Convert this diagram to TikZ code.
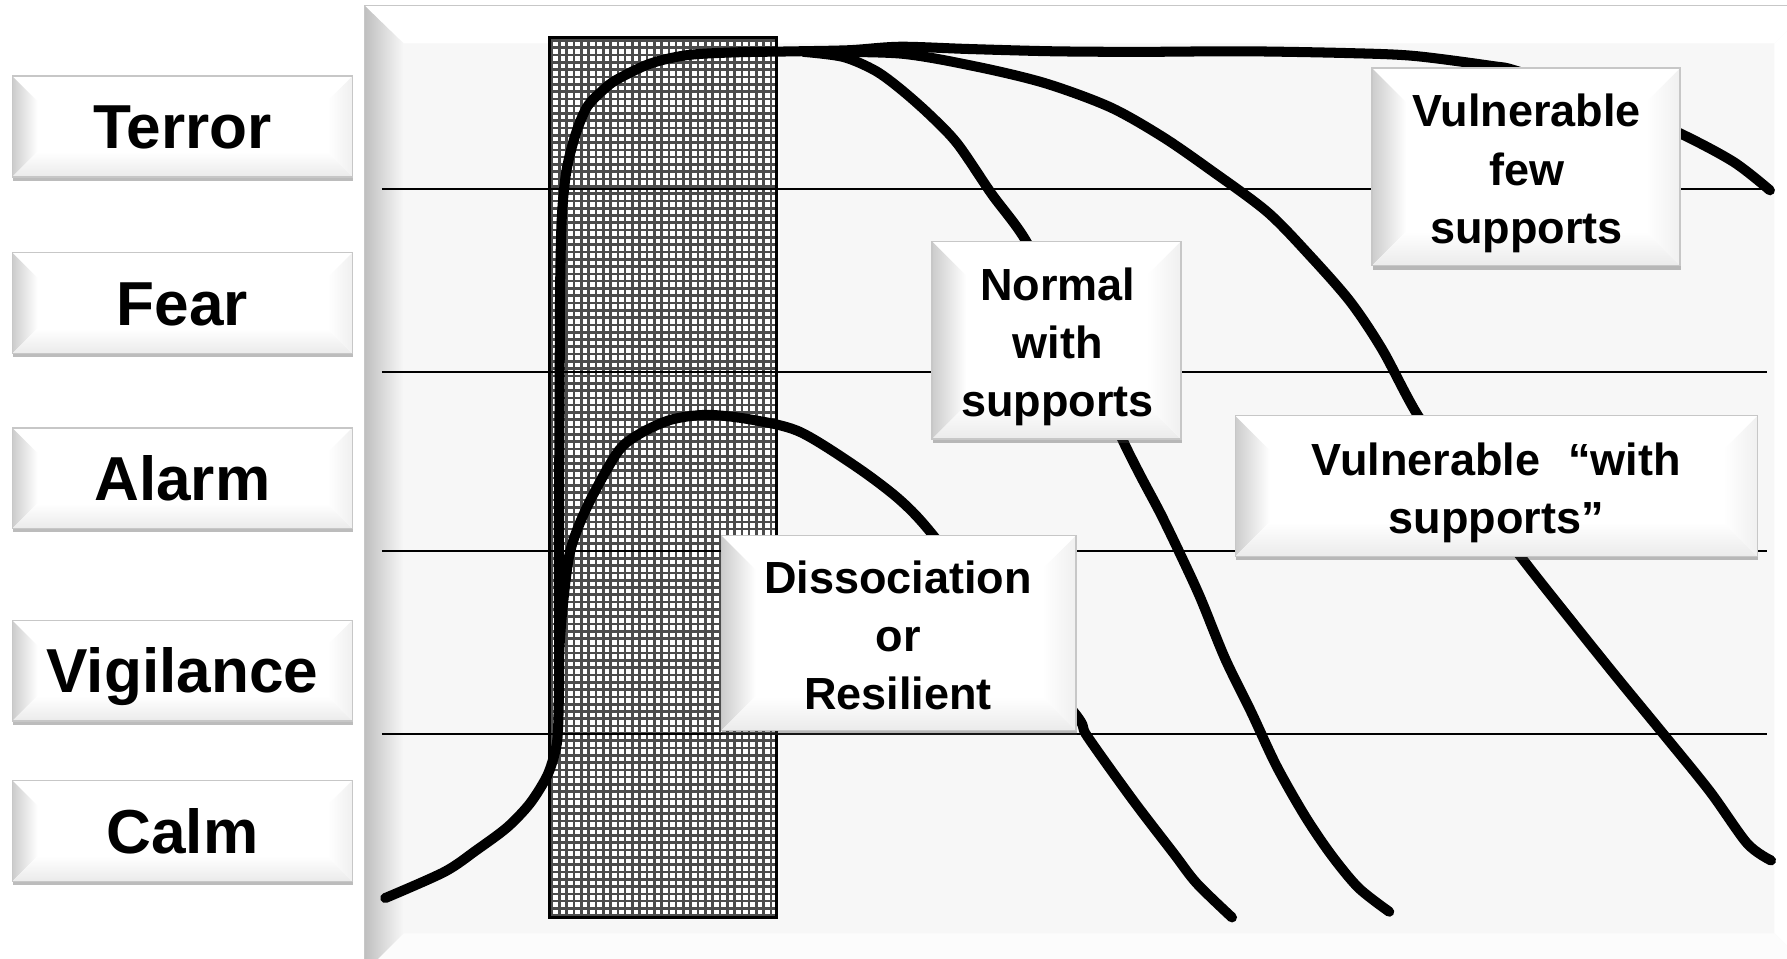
\documentclass[tikz,border=0pt]{standalone}
\usepackage{fontspec}
\setmainfont{Liberation Sans}
\usetikzlibrary{shadows}
\newcommand\bevelize[2]{%
  \shade[left color=black!20, right color=white]
     (#1.north west) -- ([xshift=#2,yshift=-#2]#1.north west)
     -- ([xshift=#2,yshift=#2]#1.south west) -- (#1.south west) -- cycle;
  \shade[top color=white, bottom color=black!8]
     (#1.south west) -- ([xshift=#2,yshift=#2]#1.south west)
     -- ([xshift=-#2,yshift=#2]#1.south east) -- (#1.south east) -- cycle;
  \shade[left color=white, right color=black!6]
     (#1.north east) -- ([xshift=-#2,yshift=-#2]#1.north east)
     -- ([xshift=-#2,yshift=#2]#1.south east) -- (#1.south east) -- cycle;
  \draw[black!22, line width=1.2pt] (#1.north west) rectangle (#1.south east);
}
\begin{document}
\begin{tikzpicture}[x=1pt,y=-1pt]
\tikzset{
  curve/.style={line width=8.8pt, line cap=round, line join=round, black},
  gridln/.style={line width=1.8pt, black},
  hatchln/.style={line width=2.3pt, black!70},
  bevelbox/.style={fill=white, inner sep=0pt,
     drop shadow={shadow xshift=0.8pt, shadow yshift=-3.5pt, opacity=0.35, fill=black!75}},
  lvl/.style={bevelbox, minimum width=298pt, minimum height=88pt},
  lvltext/.style={font=\fontsize{54.5}{60}\selectfont\bfseries, inner sep=0pt, text height=39pt, text depth=0pt},
  tag/.style={bevelbox},
  tagtext/.style={font=\fontsize{39.5}{51}\selectfont\bfseries, align=center, inner sep=0pt},
}
\useasboundingbox (0,0) rectangle (1568,841);
\fill[white] (0,0) rectangle (1568,841);

% panel with bevel
\begin{scope}
\clip (0,0) rectangle (1568,841);
\fill[black!3] (320,5) rectangle (1590,853);
\fill[white] (320,5) -- (1590,5) -- (1557,38) -- (354,38) -- cycle;
\fill[white] (1590,5) -- (1557,38) -- (1557,819) -- (1590,852) -- cycle;
\fill[white!60!black!3] (320,853) -- (354,819) -- (1557,819) -- (1590,852) -- cycle;
\shade[left color=black!25, right color=black!3] (320,5) -- (354,38) -- (354,819) -- (320,853) -- cycle;
\draw[black!22, line width=1.2pt] (1590,5) -- (320,5) -- (320,853);
\end{scope}

% hatched shock period
\begin{scope}
\clip (482,33) rectangle (681,805);
\fill[white] (482,33) rectangle (681,805);
\foreach \k in {0,...,31} \draw[hatchln] ({484.5+\k*6.4},33) -- ++(0,772);
\foreach \k in {0,...,120} \draw[hatchln] (482,{35.5+\k*6.4}) -- ++(199,0);
\end{scope}
\node[draw, line width=2.5pt, minimum width=199pt, minimum height=772pt, inner sep=0pt] (shock) at (581.5,419) {};

% level lines
\foreach \yy in {165.8,326,483.5,644.3} \draw[gridln] (335,\yy) -- (1550,\yy);

% curves
\draw[curve] plot[smooth, tension=0.5] coordinates {(338,788) (390,765) (418,746) (445,726) (465,705) (480,681) (487,660) (489.5,643) (490.5,600) (490.5,540) (490.5,450) (491,350) (491.5,250) (493,190) (497,150) (505,118) (515,94) (528,80) (541,70) (570,56) (602,48.5) (643,46) (700,45) (746,44) (790,41) (850,43) (924,45) (1000,45.5) (1091,45) (1180,46.5) (1240,49) (1310,58) (1330,62) (1400,85) (1472,116) (1521,142) (1553,167)};
\draw[curve] plot[smooth, tension=0.5] coordinates {(705,45.5) (740,50) (768,62) (790,78) (815,100) (840,126) (870,170) (900,211) (935,280) (965,340) (985,386) (1001,418) (1018,450) (1035,485) (1053,524) (1075,578) (1098,625) (1120,672) (1145,716) (1168,750) (1192,779) (1219,800)};
\draw[curve] plot[smooth, tension=0.5] coordinates {(710,45.5) (790,47) (857,58.5) (917,73) (974,94) (1020,120) (1062,149) (1112,186) (1150,225) (1185,265) (1213,307) (1245,366) (1290,428) (1334,488) (1383,550) (1420,596) (1457,641) (1500,694) (1533,740) (1554,755)};
\draw[curve] plot[smooth, tension=0.5] coordinates {(490.5,575) (493,540) (500,485) (515,445) (541,398) (559,382) (588,368.5) (621,364) (661,368.5) (702,379) (752,410) (790,439) (819,470) (880,550) (944,627) (954,646) (994,702) (1030,749) (1050,775) (1081,805)};

% level labels
\node[lvl] (terror) at (160,111) {};
\bevelize{terror}{22pt}
\node[lvltext] (terrort) at (terror.center) {Terror};
\node[lvl] (fear) at (160,266) {};
\bevelize{fear}{22pt}
\node[lvltext] (feart) at (fear.center) {Fear};
\node[lvl] (alarm) at (160,419.6) {};
\bevelize{alarm}{22pt}
\node[lvltext] (alarmt) at (alarm.center) {Alarm};
\node[lvl] (vigil) at (160,588.5) {};
\bevelize{vigil}{22pt}
\node[lvltext] (vigilt) at (vigil.center) {Vigilance};
\node[lvl] (calm) at (160,729) {};
\bevelize{calm}{22pt}
\node[lvltext] (calmt) at (calm.center) {Calm};

% outcome labels
\node[tag, minimum width=218pt, minimum height=173pt] (nbox) at (927,298.5) {};
\bevelize{nbox}{30pt}
\node[tagtext] (ntext) at (928,304.2) {Normal\\with\\supports};
\node[tag, minimum width=311pt, minimum height=171pt] (dbox) at (788.5,555.5) {};
\bevelize{dbox}{30pt}
\node[tagtext] (dtext) at (788,557.5) {Dissociation\\or\\Resilient};
\node[tag, minimum width=270pt, minimum height=173pt] (vfbox) at (1339,146.5) {};
\bevelize{vfbox}{30pt}
\node[tagtext] (vftext) at (1339.5,152.2) {Vulnerable\\few\\supports};
\node[tag, minimum width=458pt, minimum height=123pt] (vwbox) at (1313,426.5) {};
\bevelize{vwbox}{30pt}
\node[tagtext] (vwtext) at (1313,432.7) {Vulnerable\hspace{0.62em}“with\\supports”};
\end{tikzpicture}
\end{document}
